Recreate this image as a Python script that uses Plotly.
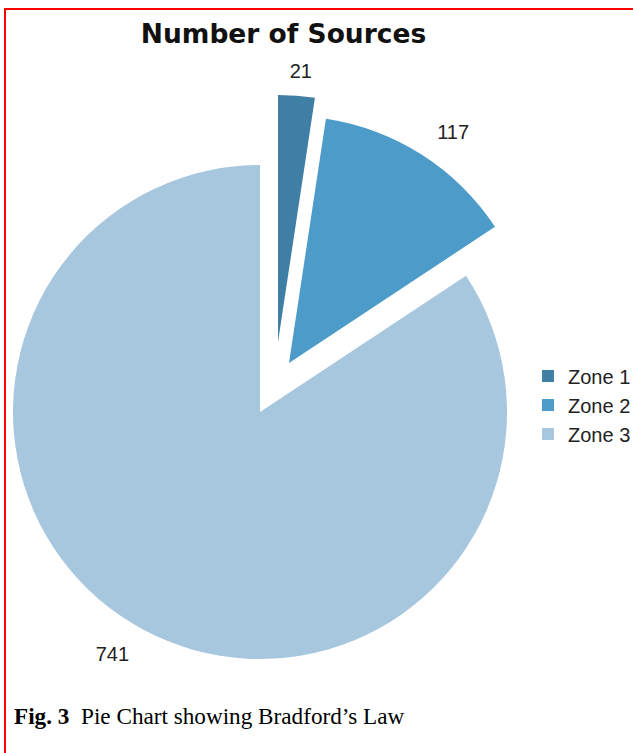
import plotly.graph_objects as go

# ---------------- data ----------------
zones = ["Zone 1", "Zone 2", "Zone 3"]
sources = [21, 117, 741]
colors = ["#3F7FA6", "#4C9BC9", "#A7C7DF"]
title_text = "Number of Sources"
caption_bold = "Fig. 3"
caption_text = "Pie Chart showing Bradford’s Law"

# ---------------- layout geometry (pixels) ----------------
W, H = 633, 753
R = 247
# centre of each (exploded) slice
slice_centers = [(278, 342), (289, 363), (260, 412)]
# geometry of the transparent label rings (cx, cy, r)
label_geom = [(265.5, 331.2, 250), (289, 363, 265), (255.3, 420.8, 255)]

CLEAR = "rgba(0,0,0,0)"


def dom(cx, cy, r):
    return dict(x=[(cx - r) / W, (cx + r) / W],
                y=[1 - (cy + r) / H, 1 - (cy - r) / H])


fig = go.Figure()

# slices: one pie per zone, only that zone's slice is coloured
for k, (cx, cy) in enumerate(slice_centers):
    fig.add_trace(go.Pie(
        labels=zones, values=sources, sort=False, direction="clockwise",
        rotation=0,
        marker=dict(colors=[colors[i] if i == k else CLEAR for i in range(len(zones))],
                    line=dict(width=0)),
        textinfo="none", hoverinfo="skip", showlegend=False,
        domain=dom(cx, cy, R),
    ))

# value labels
for k, (cx, cy, r) in enumerate(label_geom):
    fig.add_trace(go.Pie(
        labels=zones, values=sources, sort=False, direction="clockwise",
        rotation=0,
        marker=dict(colors=[CLEAR] * len(zones), line=dict(width=0)),
        text=[str(v) if i == k else "" for i, v in enumerate(sources)],
        textinfo="text",
        textposition=["outside" if i == k else "none" for i in range(len(zones))],
        outsidetextfont=dict(family="Liberation Sans, Arial", size=20, color="#222222"),
        hoverinfo="skip", showlegend=False,
        domain=dom(cx, cy, r),
    ))

# legend entries
for k, z in enumerate(zones):
    fig.add_trace(go.Scatter(
        x=[None], y=[None], mode="markers", name=z,
        marker=dict(symbol="square", size=12, color=colors[k], line=dict(width=0)),
        showlegend=True, hoverinfo="skip",
    ))

fig.update_layout(
    width=W, height=H,
    margin=dict(l=0, r=0, t=0, b=0, autoexpand=False),
    paper_bgcolor="white", plot_bgcolor="white",
    xaxis=dict(visible=False), yaxis=dict(visible=False),
    title=dict(text="<b>" + title_text + "</b>", x=283.5 / W, xanchor="center",
               y=1 - 34 / H, yanchor="middle",
               font=dict(family="DejaVu Sans", size=26.5, color="#111111")),
    legend=dict(x=528 / W, xanchor="left", y=1 - 405 / H, yanchor="middle",
                font=dict(family="Liberation Sans, Arial", size=20, color="#222222"),
                bgcolor="rgba(0,0,0,0)", borderwidth=0),
    annotations=[dict(
        text="<b>" + caption_bold + "</b>\u00a0\u00a0" + caption_text,
        xref="paper", yref="paper", x=12 / W, y=1 - 716 / H,
        xanchor="left", yanchor="middle", showarrow=False,
        font=dict(family="Liberation Serif, Times New Roman", size=23.2, color="#000000"),
    )],
    shapes=[dict(type="rect", xref="paper", yref="paper",
                 x0=5 / W, x1=1.1, y0=-0.1, y1=1 - 9 / H,
                 line=dict(color="#FF0000", width=2), fillcolor="rgba(0,0,0,0)")],
)

fig.write_html(
    "out.html",
    config={"displayModeBar": False},
    post_script="document.body.style.margin='0';document.body.style.overflow='hidden';",
)
